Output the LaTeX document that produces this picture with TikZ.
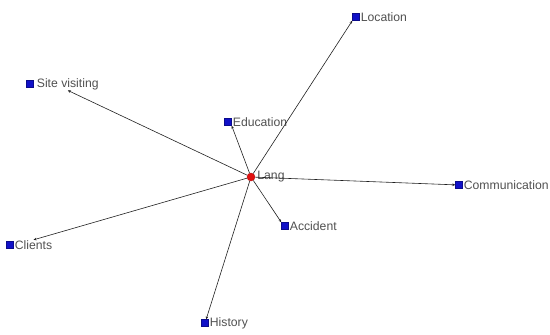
\documentclass[tikz,border=0pt]{standalone}
\usepackage{fontspec}
\setmainfont{Liberation Sans}
\usepackage{xcolor}
\usetikzlibrary{arrows.meta,positioning}
\definecolor{sqblue}{HTML}{1010C8}
\definecolor{egored}{HTML}{E01010}
\definecolor{labelgray}{HTML}{505050}
\definecolor{edge}{HTML}{202020}

\begin{document}
\begin{tikzpicture}[
  x=1pt, y=-1pt,
  font=\fontsize{12.2}{14}\selectfont,
  sq/.style={draw=sqblue!70!black, fill=sqblue, minimum size=7pt, inner sep=0pt},
  ego/.style={circle, draw=egored!80!black, fill=egored, minimum size=8pt, inner sep=0pt},
  lbl/.style={text=labelgray, inner sep=0.5pt, anchor=west},
  arr/.style={-{Stealth[length=3pt, width=2.6pt]}, color=edge, line width=0.6pt}
]
\useasboundingbox (0,0) rectangle (550,335);

\node[ego] (lang) at (251,177) {};
\node[lbl, right=1.5pt of lang] (langl) {Lang};

\node[sq] (loc) at (356,17) {};
\node[lbl, right=0.5pt of loc] (locl) {Location};
\node[sq] (site) at (30,84) {};
\node[lbl, right=2.5pt of site] (sitel) {Site visiting};
\node[sq] (edu) at (228,122) {};
\node[lbl, right=0.5pt of edu] (edul) {Education};
\node[sq] (comm) at (459,185) {};
\node[lbl, right=0.5pt of comm] (comml) {Communication};
\node[sq] (acc) at (285,226) {};
\node[lbl, right=0.5pt of acc] (accl) {Accident};
\node[sq] (cli) at (10,245) {};
\node[lbl, right=0.5pt of cli] (clil) {Clients};
\node[sq] (hist) at (205,323) {};
\node[lbl, right=0.5pt of hist] (histl) {History};

\draw[arr] (lang) -- (loc.south west);
\draw[arr] (lang) -- (sitel.south);
\draw[arr] (lang) -- (edu.south east);
\draw[arr] (lang) -- (comm);
\draw[arr] (lang) -- (acc.north west);
\draw[arr] (lang) -- (clil.north);
\draw[arr] (lang) -- (hist);
\end{tikzpicture}
\end{document}
